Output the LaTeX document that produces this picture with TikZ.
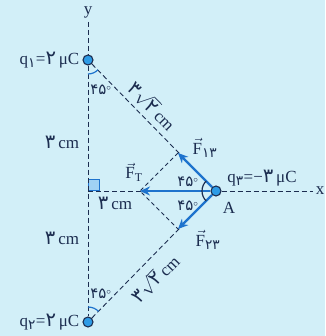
\documentclass[tikz,border=0pt]{standalone}
\usepackage{fontspec}
\setmainfont{Liberation Serif}
\newfontfamily\fa[Scale=1.15]{DejaVu Sans}
\usetikzlibrary{arrows.meta,positioning}
\definecolor{bgcyan}{RGB}{210,239,248}
\definecolor{ink}{RGB}{28,45,80}
\definecolor{forceblue}{RGB}{30,115,205}
\definecolor{dotblue}{RGB}{45,155,230}
\newcommand{\fd}[1]{{\fa #1}}
\newcommand{\vF}[1]{$\vec{\mbox{F}}$\textsubscript{#1}}
\newcommand{\degs}{\fd{۴۵}$^{\circ}$}

\begin{document}
\begin{tikzpicture}[x=1pt,y=1pt,every node/.style={font=\fontsize{17}{19}\selectfont,text=ink,inner sep=1.5pt},
  charge/.style={circle,draw=ink,fill=dotblue,line width=1.1pt,inner sep=0pt,minimum size=10pt},
  guide/.style={draw=ink,dash pattern=on 5pt off 3pt,line width=0.9pt},
  force/.style={draw=forceblue,line width=2.4pt,-{Stealth[length=10pt,width=9pt]}},
  anglearc/.style={draw=forceblue,line width=1.2pt},
  anglelbl/.style={font=\fontsize{13}{15}\selectfont}]
\fill[bgcyan] (0,0) rectangle (325,336);
\useasboundingbox (0,0) rectangle (325,336);
% charges and points
\node[charge] (q1) at (88,276) {};
\node[charge] (q2) at (88,14) {};
\node[charge] (A) at (216,145) {};
\coordinate (O) at (88,145);
\coordinate (ytop) at (88,314);
\coordinate (xend) at (313,145);
\coordinate (f13) at (178,183);
\coordinate (f23) at (178,107);
\coordinate (ft) at (140,145);
\node[draw=forceblue,fill=dotblue!45,line width=0.8pt,anchor=south west,inner sep=0pt,minimum size=11pt] (rt) at (O) {};
% axes and distances
\draw[guide] (ytop) -- (q1);
\draw[guide] (q1) -- (O) -- (q2);
\draw[guide] (O) -- (A);
\draw[guide] (A) -- (xend);
\draw[guide] (q1) -- (A);
\draw[guide] (q2) -- (A);
\draw[guide,dash pattern=on 4pt off 3pt] (f13) -- (ft) -- (f23);
% forces
\draw[force] (A) -- (f13);
\draw[force] (A) -- (f23);
\draw[force] (A) -- (ft);
% angles
\draw[anglearc] (q1) ++(270:14) arc[start angle=270,end angle=315,radius=14];
\draw[anglearc] (q2) ++(45:15) arc[start angle=45,end angle=90,radius=15];
\draw[anglearc,draw=ink] (A) ++(135:14) arc[start angle=135,end angle=180,radius=14];
\draw[anglearc,draw=ink] (A) ++(180:14) arc[start angle=180,end angle=225,radius=14];
\node[anglelbl] (a1) at (101,246) {\degs};
\node[anglelbl] (a2) at (101,42) {\degs};
\node[anglelbl] (a3) at (188,154) {\degs};
\node[anglelbl] (a4) at (188,130) {\degs};
% labels
\node (ylbl) at (88,324) {y};
\node (xlbl) at (320,145) {x};
\node[anchor=east] (q1lbl) at (81,276) {q\textsubscript{\fd{۱}}=\fd{۲}\,μC};
\node[anchor=east] (q2lbl) at (81,14) {q\textsubscript{\fd{۲}}=\fd{۲}\,μC};
\node (q3lbl) at (262,158) {q\textsubscript{\fd{۳}}=−\fd{۳}\,μC};
\node (Albl) at (229,128) {A};
\node (d1) at (62,194) {\fd{۳}\,cm};
\node (d2) at (62,98) {\fd{۳}\,cm};
\node (d3) at (115,133) {\fd{۳}\,cm};
\path (q1) -- (A) node[sloped,above=3pt,pos=0.42] (h1) {\fd{۳}$\sqrt{\mbox{\fd{۲}}}$\,cm};
\path (q2) -- (A) node[sloped,below=7pt,pos=0.42] (h2) {\fd{۳}$\sqrt{\mbox{\fd{۲}}}$\,cm};
\node (f13lbl) at (205,188) {\vF{\fd{۱۳}}};
\node (f23lbl) at (208,96) {\vF{\fd{۲۳}}};
\node (ftlbl) at (134,164) {\vF{T}};
\end{tikzpicture}
\end{document}
